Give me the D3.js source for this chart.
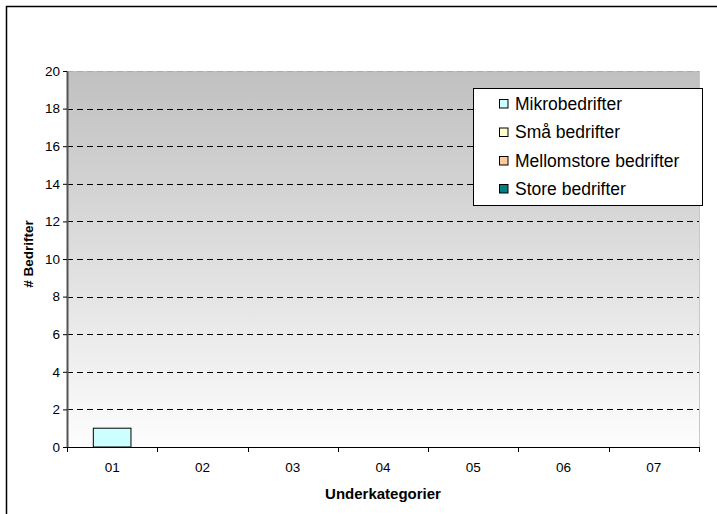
<!DOCTYPE html>
<html><head><meta charset="utf-8">
<script src="https://cdn.jsdelivr.net/npm/d3@7"></script>
<style>body{margin:0;background:#fff}svg{display:block;font-family:"Liberation Sans",Arial,sans-serif}</style>
</head><body>
<svg id="c" width="717" height="514"></svg>
<script>
const categories = ["01","02","03","04","05","06","07"];
const seriesNames = ["Mikrobedrifter","Små bedrifter","Mellomstore bedrifter","Store bedrifter"];
const seriesColors = ["#ccffff","#ffffcc","#ffcc99","#008080"];
const mikroValues = [1,0,0,0,0,0,0];
const yTicks = [0,2,4,6,8,10,12,14,16,18,20];

const svg = d3.select("#c");
const m = {l:67, t:71, r:699, b:447};
svg.append("rect").attr("x",6.5).attr("y",6.5).attr("width",730).attr("height",530)
  .attr("fill","#fff").attr("stroke","#000").attr("stroke-width",1.5);

const defs = svg.append("defs");
const g = defs.append("linearGradient").attr("id","bg").attr("x1",0).attr("y1",0).attr("x2",0).attr("y2",1);
g.append("stop").attr("offset","0%").attr("stop-color","#c0c0c0");
g.append("stop").attr("offset","100%").attr("stop-color","#fdfdfd");

const x = d3.scaleBand().domain(categories).range([m.l,m.r]);
const y = d3.scaleLinear().domain([0,20]).range([m.b,m.t]);

svg.append("rect").attr("x",m.l).attr("y",m.t).attr("width",m.r-m.l).attr("height",m.b-m.t)
  .attr("fill","url(#bg)");
svg.append("line").attr("x1",m.r+0.5).attr("x2",m.r+0.5).attr("y1",m.t).attr("y2",m.b)
  .attr("stroke","#c8c8c8");

// gridlines
svg.append("g").selectAll("line").data(yTicks.filter(d=>d>0)).join("line")
  .attr("x1",m.l).attr("x2",m.r).attr("y1",d=>Math.round(y(d))+0.5).attr("y2",d=>Math.round(y(d))+0.5)
  .attr("stroke",d=>d===20?"#aaa":"#000").attr("stroke-dasharray","6,4").attr("stroke-width",1);

// bars
const bw = x.bandwidth()*0.417;
svg.append("g").selectAll("rect").data(categories.map((c,i)=>({c,v:mikroValues[i]})).filter(d=>d.v>0)).join("rect")
  .attr("x",d=>x(d.c)+(x.bandwidth()-bw)/2).attr("y",d=>y(d.v)).attr("width",bw).attr("height",d=>y(0)-y(d.v))
  .attr("fill",seriesColors[0]).attr("stroke","#000").attr("stroke-width",1);

// y axis
const ya = svg.append("g").attr("transform",`translate(${m.l},0)`)
  .call(d3.axisLeft(y).tickValues(yTicks).tickSize(4).tickSizeOuter(0).tickPadding(3));
ya.select(".domain").attr("stroke","#555").attr("stroke-width",2);
ya.selectAll(".tick line").attr("stroke","#000");
ya.selectAll("text").attr("font-size",13.5).attr("fill","#000").attr("font-family","Liberation Sans, Arial, sans-serif");

// x axis
const xa = svg.append("g").attr("transform",`translate(0,${m.b})`)
  .call(d3.axisBottom(x).tickSize(0).tickPadding(15));
xa.select(".domain").remove();
svg.append("line").attr("x1",m.l).attr("x2",m.r).attr("y1",m.b+0.5).attr("y2",m.b+0.5).attr("stroke","#000");
const bounds = categories.map(c=>x(c)).concat([m.r]);
svg.append("g").selectAll("line").data(bounds).join("line")
  .attr("x1",d=>Math.round(d)+0.5).attr("x2",d=>Math.round(d)+0.5).attr("y1",m.b).attr("y2",m.b+5).attr("stroke","#000");
xa.selectAll("text").attr("font-size",13.5).attr("fill","#000").attr("font-family","Liberation Sans, Arial, sans-serif");

// titles
svg.append("text").attr("x",(m.l+m.r)/2).attr("y",499).attr("text-anchor","middle")
  .attr("font-size",15).attr("font-weight","bold").text("Underkategorier");
svg.append("text").attr("transform","translate(33,254) rotate(-90)").attr("text-anchor","middle")
  .attr("font-size",13.5).attr("font-weight","bold").text("# Bedrifter");

// legend
const lg = svg.append("g");
lg.append("rect").attr("x",473.5).attr("y",88.5).attr("width",229).attr("height",117)
  .attr("fill","#fff").attr("stroke","#000").attr("stroke-width",1);
const rows = [104,132.5,161,189];
seriesNames.forEach((n,i)=>{
  lg.append("rect").attr("x",499.5).attr("y",rows[i]-4.5).attr("width",8.5).attr("height",8.5)
    .attr("fill",seriesColors[i]).attr("stroke","#000");
  lg.append("text").attr("x",515).attr("y",rows[i]+5.5).attr("font-size",17.5).text(n);
});
</script>
</body></html>
